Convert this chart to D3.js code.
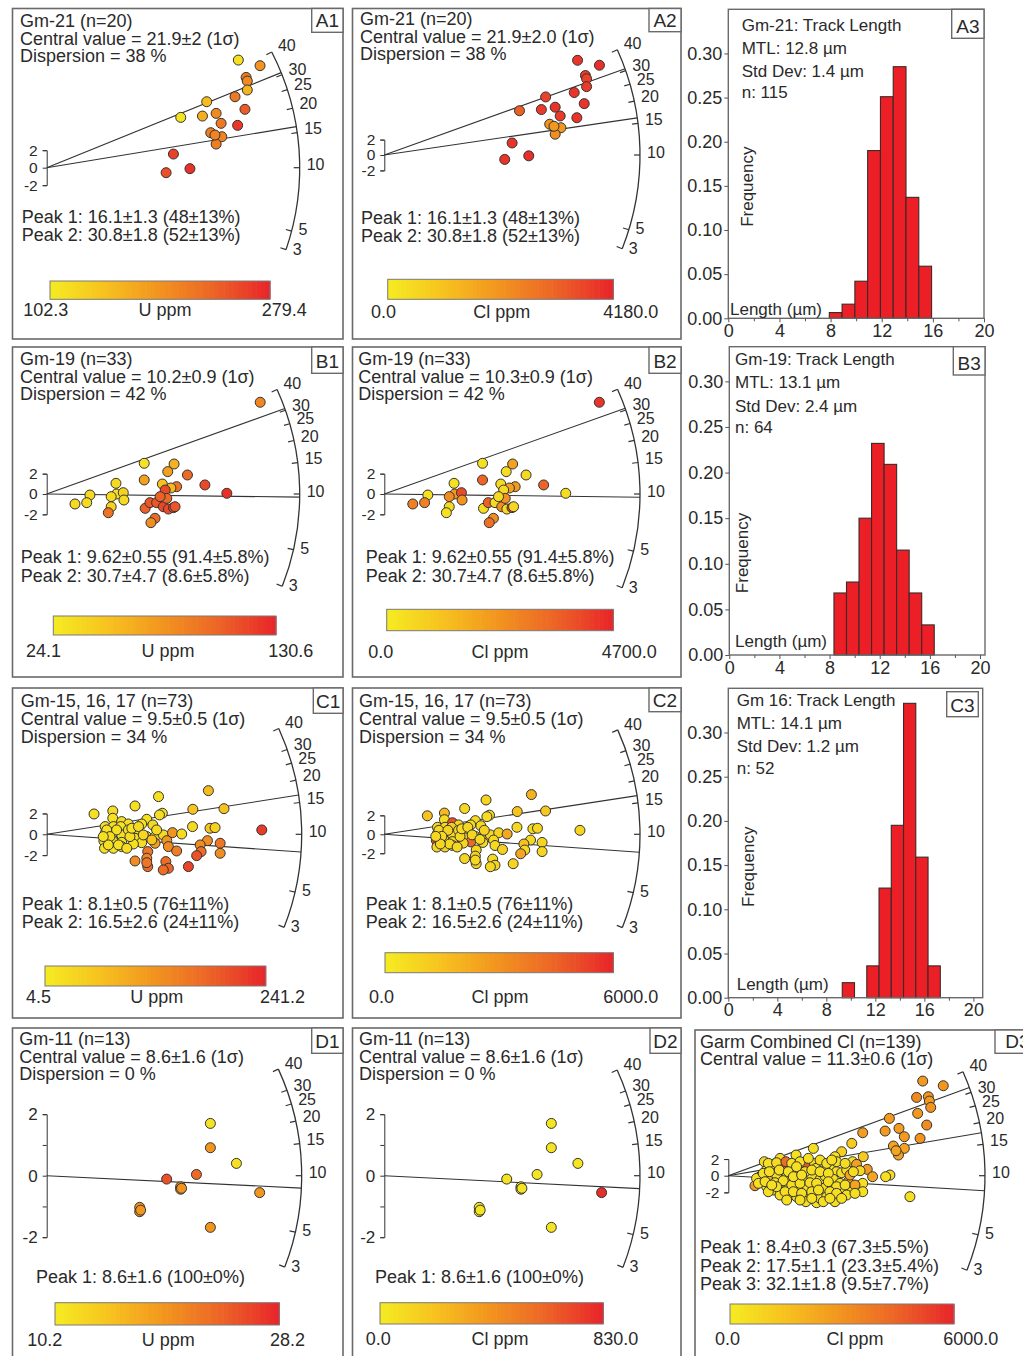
<!DOCTYPE html>
<html><head><meta charset="utf-8">
<script src="https://cdn.jsdelivr.net/npm/d3@7"></script>
<style>body{margin:0;background:#fff}</style>
</head><body><script>
// ---------------- DATA ----------------
// radial-plot grains: [precision x, standardised estimate z, U ppm, Cl ppm]
const gm21Grains = [
[8.12,12.30,115,3900],[9.04,11.66,190,4000],[8.45,10.32,215,3800],[8.50,9.90,200,3700],[8.50,8.88,160,3800],
[7.98,8.11,215,3900],[6.78,7.54,150,3700],[8.40,6.67,240,3900],[5.68,5.75,110,3200],[6.60,5.90,165,3800],
[7.18,6.21,200,3900],[7.39,5.07,215,3800],[8.09,4.84,265,3900],[6.95,4.00,210,2100],[7.42,3.54,205,2000],
[7.18,2.70,210,2200],[5.37,1.56,260,3900],[6.07,-0.11,270,4000],[5.06,-0.57,250,3900],[7.13,3.73,205,2000]];
const gm19Grains = [
[6.72,9.02,85,4400],[3.07,3.02,30,300],[4.01,2.95,60,2000],[3.81,2.20,70,400],[4.43,1.87,100,500],
[3.07,1.38,70,3500],[2.18,1.05,35,300],[3.64,0.98,50,500],[4.09,0.72,95,2200],[3.91,0.59,55,2000],
[4.98,0.89,115,3500],[5.67,0.07,125,400],[3.73,0.39,115,500],[1.36,-0.10,35,300],[2.20,0.00,30,2200],
[2.41,0.13,40,4000],[2.03,-0.26,35,2500],[0.89,-0.98,35,2800],[1.26,-0.85,35,2800],[2.43,-0.59,35,2300],
[2.03,-1.25,40,500],[1.94,-1.84,95,300],[3.10,-1.41,105,400],[3.25,-0.85,110,3600],[3.46,-0.85,110,500],
[3.67,-1.25,115,2500],[3.83,-1.48,115,400],[3.99,-1.34,115,4200],[3.41,-2.39,100,2500],[3.28,-2.82,80,3200],
[3.78,-0.43,100,2400],[3.57,-0.26,105,500],[4.04,-1.25,110,600]];
const gm15to17Grains = [
[5.09,4.19,70,2000],[3.52,3.62,20,800],[2.78,2.72,20,700],[1.49,1.95,20,1500],[2.08,2.24,25,1800],[3.64,2.02,20,700],[3.55,1.86,25,600],[4.60,2.40,60,1400],[5.58,2.46,60,1300],[2.08,1.54,20,600],
[2.36,1.22,25,5000],[2.57,0.99,25,800],[3.15,1.44,20,700],[3.34,0.90,30,700],[2.99,0.99,20,600],[1.84,0.74,20,700],[2.10,0.74,20,600],[2.33,0.74,20,1200],[4.59,0.74,30,700],[5.14,0.58,60,700],
[5.30,0.64,40,800],[2.78,0.26,20,700],[1.84,0.10,20,600],[2.10,0.16,20,700],[2.36,-0.06,20,700],[3.15,-0.22,55,600],[3.41,-0.22,35,800],[3.67,-0.06,30,700],[3.96,0.16,120,900],[4.25,0.03,30,2300],
[2.78,-0.38,20,800],[1.80,-0.64,20,5200],[2.10,-0.70,20,600],[2.36,-0.77,20,800],[2.99,-0.80,25,4300],[2.73,-0.93,20,700],[3.41,-0.86,110,700],[3.78,-0.61,120,700],[5.06,-0.61,130,700],[5.46,-0.86,160,800],
[6.77,0.42,220,800],[1.82,-1.34,20,700],[2.10,-1.34,20,800],[2.36,-1.18,25,600],[3.18,-1.66,160,800],[3.83,-1.18,130,700],[4.09,-1.60,150,900],[4.83,-1.02,130,1500],[4.86,-1.66,170,700],[4.72,-2.05,200,2400],
[5.46,-1.82,130,800],[2.78,-2.56,130,800],[3.15,-2.30,140,800],[3.18,-3.10,170,900],[3.75,-2.62,170,700],[3.83,-3.26,180,800],[3.67,-3.42,170,700],[4.46,-3.10,210,800],[3.15,-2.72,160,700],[1.89,0.42,20,700],
[2.20,0.42,20,900],[1.99,-0.22,25,600],[2.26,-1.02,20,700],[2.57,0.42,25,800],[2.62,-0.22,25,700],[2.68,0.58,20,600],[2.89,0.74,30,700],[3.04,-0.06,35,800],[3.31,-0.54,60,700],[3.46,0.42,30,900],
[2.52,-1.34,25,700],[1.94,-1.02,20,800],[1.78,-0.22,20,700]];
const gm11Grains = [
[1.76,1.70,11,30],[1.76,0.91,19,40],[2.04,0.40,11.5,30],[1.61,0.04,23,40],[1.29,-0.11,25,50],
[1.44,-0.36,19,40],[1.44,-0.44,19,30],[2.29,-0.55,19,800],[1.00,-1.03,19,40],[1.00,-1.17,18,30],
[1.76,-1.68,19,40],[1.01,-1.12,19,30],[1.45,-0.41,19,40]];
// combined plot: [precision x, z, Cl ppm]
const garmCombinedGrains = [
[7.29,11.36,2800],[8.06,10.80,2900],[7.06,9.40,3300],[7.50,9.48,2900],[7.54,8.96,2800],[7.59,8.20,3000],[7.10,7.48,2800],[6.04,6.88,2800],[7.44,6.08,3200],[5.04,5.16,2700],
[5.88,5.36,2800],[6.40,5.68,2700],[6.60,4.68,2800],[7.19,4.48,3000],[6.19,3.56,2500],[6.60,3.28,2500],[6.38,2.48,2500],[6.29,3.00,2400],[4.63,3.88,1200],[4.25,2.88,1000],
[3.19,3.28,500],[5.06,2.28,1200],[4.00,2.28,400],[4.66,1.68,500],[4.81,1.36,2600],[5.21,0.76,2700],[5.41,-0.12,2400],[4.50,-0.72,2500],[5.04,-0.92,500],[5.04,-1.92,400],
[6.06,0.08,600],[5.90,-0.12,500],[6.81,-2.52,400],[2.54,2.48,400],[1.94,2.08,600],[1.35,1.68,700],[1.63,1.16,500],[2.06,1.08,4500],[2.94,1.20,4800],[3.23,1.48,400],
[3.29,0.88,500],[3.69,0.88,500],[3.88,1.08,500],[4.06,0.48,500],[4.25,0.36,600],[4.44,0.68,400],[2.69,0.68,500],[2.44,0.48,500],[1.69,0.28,500],[1.41,0.60,400],
[1.19,-0.12,600],[1.00,-1.20,2800],[1.44,-1.32,500],[1.94,-1.32,400],[2.19,-0.92,500],[2.50,-0.52,2300],[2.81,-0.52,500],[3.13,-0.12,600],[3.44,-0.44,500],[3.63,-0.04,400],
[3.94,-0.44,500],[4.19,-0.92,500],[3.88,-1.32,400],[3.56,-1.52,500],[3.19,-1.32,600],[2.88,-1.52,500],[2.56,-1.72,400],[2.31,-2.32,500],[2.56,-2.52,500],[2.91,-2.52,400],
[2.91,-3.12,500],[3.31,-3.24,500],[3.44,-2.72,500],[3.69,-2.52,600],[4.00,-3.12,500],[4.31,-2.04,500],[4.56,-1.72,600],[1.69,-1.72,600],[1.94,-2.32,500],[1.25,-0.52,600],
[1.56,-0.52,2200],[1.06,-0.32,500],[2.19,-0.12,500],[1.81,0.08,500],[1.50,1.48,500],[1.81,1.56,600],[2.16,1.68,4200],[2.38,1.48,500],[2.69,1.68,500],[3.00,2.08,500],
[3.44,1.88,600],[3.69,1.48,500],[4.06,1.68,500],[4.38,1.48,600],[1.31,0.28,500],[1.54,0.48,500],[1.91,0.68,500],[2.25,0.48,500],[2.56,1.08,500],[2.88,0.48,500],
[3.13,0.68,500],[3.44,0.48,500],[3.75,0.28,500],[4.56,0.08,2400],[1.13,-0.92,500],[1.38,-0.72,500],[1.75,-0.84,500],[2.06,-0.60,500],[2.38,-1.12,500],[2.69,-0.92,500],
[3.06,-0.84,500],[3.31,-0.92,500],[3.75,-0.72,500],[4.06,-1.32,500],[4.38,-1.12,500],[4.75,-1.12,2500],[1.50,-1.92,500],[1.81,-1.32,500],[2.13,-1.92,500],[2.44,-1.92,500],
[2.75,-2.12,500],[3.13,-1.92,500],[3.38,-1.72,500],[3.81,-1.92,500],[4.06,-2.12,500],[4.44,-2.32,500],[4.75,-2.12,500],[2.19,-2.92,500],[2.69,-2.92,500],[3.13,-2.72,500],
[3.56,-3.12,500],[3.81,-2.72,500],[4.25,-2.72,500],[4.94,0.60,700],[3.88,1.88,500],[2.44,-0.12,500],[2.75,0.08,500],[1.63,-1.12,500],[4.69,0.48,600]];

// peaks (Ma) and texts
const gm21Peaks = [16.1, 30.8];
const gm19Peaks = [9.62, 30.7];
const gm15Peaks = [8.1, 16.5];
const gm11Peaks = [8.6];
const garmPeaks = [8.4, 17.5, 32.1];
const gm21HeadU = ["Gm-21 (n=20)","Central value = 21.9±2 (1σ)","Dispersion = 38 %"];
const gm21HeadCl = ["Gm-21 (n=20)","Central value = 21.9±2.0 (1σ)","Dispersion = 38 %"];
const gm21PeakText = ["Peak 1: 16.1±1.3 (48±13%)","Peak 2: 30.8±1.8 (52±13%)"];
const gm19HeadU = ["Gm-19 (n=33)","Central value = 10.2±0.9 (1σ)","Dispersion = 42 %"];
const gm19HeadCl = ["Gm-19 (n=33)","Central value = 10.3±0.9 (1σ)","Dispersion = 42 %"];
const gm19PeakText = ["Peak 1: 9.62±0.55 (91.4±5.8%)","Peak 2: 30.7±4.7 (8.6±5.8%)"];
const gm15Head = ["Gm-15, 16, 17 (n=73)","Central value = 9.5±0.5 (1σ)","Dispersion = 34 %"];
const gm15PeakText = ["Peak 1: 8.1±0.5 (76±11%)","Peak 2: 16.5±2.6 (24±11%)"];
const gm11Head = ["Gm-11 (n=13)","Central value = 8.6±1.6 (1σ)","Dispersion = 0 %"];
const gm11PeakText = ["Peak 1: 8.6±1.6 (100±0%)"];
const garmHead = ["Garm Combined Cl (n=139)","Central value = 11.3±0.6 (1σ)"];
const garmPeakText = ["Peak 1: 8.4±0.3 (67.3±5.5%)","Peak 2: 17.5±1.1 (23.3±5.4%)","Peak 3: 32.1±1.8 (9.5±7.7%)"];

// colour-bar ranges
const uRangeGm21 = [102.3, 279.4], clRangeGm21 = [0, 4180];
const uRangeGm19 = [24.1, 130.6],  clRangeGm19 = [0, 4700];
const uRangeGm15 = [4.5, 241.2],   clRangeGm15 = [0, 6000];
const uRangeGm11 = [10.2, 28.2],   clRangeGm11 = [0, 830];
const clRangeGarm = [0, 6000];

// radial arc ticks (Ma)
const arcTickAges = [3,5,10,15,20,25,30,40];
const arcAngleAges = [3,5,10,40];

// track-length histograms (frequency per 1 µm bin)
const gm21LenStart = 7.9,  gm21LenFreq = [0.0065,0.016,0.042,0.190,0.251,0.285,0.137,0.059];
const gm19LenStart = 8.35, gm19LenFreq = [0.068,0.080,0.150,0.232,0.209,0.115,0.068,0.033];
const gm16LenStart = 9.3,  gm16LenFreq = [0.017,0,0.036,0.124,0.195,0.333,0.159,0.036];
const gm21LenHead = ["Gm-21: Track Length","MTL: 12.8 µm","Std Dev: 1.4 µm","n: 115"];
const gm19LenHead = ["Gm-19: Track Length","MTL: 13.1 µm","Std Dev: 2.4 µm","n: 64"];
const gm16LenHead = ["Gm 16: Track Length","MTL: 14.1 µm","Std Dev: 1.2 µm","n: 52"];
const freqTicks = [0,0.05,0.10,0.15,0.20,0.25,0.30];
const lengthTicks = [0,4,8,12,16,20];
const lengthMinor = [2,6,10,14,18];

// ---------------- DRAWING ----------------
const FONT = "'Liberation Sans', Arial, Helvetica, sans-serif";
const INK = "#2a2a2a";
const svg = d3.select("body").append("svg").attr("width",1023).attr("height",1356)
  .style("display","block").attr("font-family",FONT);
svg.append("rect").attr("width",1023).attr("height",1356).attr("fill","#fff");
const ramp = d3.piecewise(d3.interpolateRgb, ["#f5ec22","#f7c11f","#f2931f","#ec6327","#e8242a"]);

function txt(g,x,y,s,size,anchor){
  return g.append("text").attr("x",x).attr("y",y).attr("font-size",size)
    .attr("text-anchor",anchor||"start").attr("fill",INK).text(s);
}
function labelBox(g,b,s){
  g.append("rect").attr("x",b[0]).attr("y",b[1]).attr("width",b[2]-b[0]).attr("height",b[3]-b[1])
    .attr("fill","#fff").attr("stroke","#6a6a6a").attr("stroke-width",1.4);
  txt(g,(b[0]+b[2])/2,b[3]-5,s,19,"middle");
}

const radialLayout = [
 {lab:"A1",box:[12.5,8.5,343,339],lbox:[311.7,8.5,343,32.3],ox:46.7,oy:167.7,px:23.6,py:8.75,R:253,ang:[-18.9,-14.5,0,27.2],
  grains:gm21Grains,ci:2,cdom:uRangeGm21,cname:"U ppm",head:gm21HeadU,hx:20,hy:[27.3,45,61.7],peaks:gm21Peaks,ptxt:gm21PeakText,pkx:21.7,pky:[222.7,240.7],
  cbar:[50,281,220,18.3],cby:316,cbl:23.3,cbr:306.7,cbm:165},
 {lab:"A2",box:[352.5,8.5,681,339],lbox:[649,8.5,681,31.7],ox:384.3,oy:155,px:23.8,py:7.7,R:255.7,ang:[-21.5,-17,0,24.3],
  grains:gm21Grains,ci:3,cdom:clRangeGm21,cname:"Cl ppm",head:gm21HeadCl,hx:360,hy:[25,43.3,60],peaks:gm21Peaks,ptxt:gm21PeakText,pkx:361,pky:[224,242],
  cbar:[387.7,279.3,225.6,20],cby:318.3,cbl:371,cbr:658.3,cbm:501.7},
 {lab:"B1",box:[12.5,347,343,677],lbox:[311.7,347,343,373.3],ox:46.7,oy:494,px:31.77,py:10.17,R:253,ang:[-21.4,-12.7,0,24.4],
  grains:gm19Grains,ci:2,cdom:uRangeGm19,cname:"U ppm",head:gm19HeadU,hx:20,hy:[365,382.7,400],peaks:gm19Peaks,ptxt:gm19PeakText,pkx:20.7,pky:[563.3,581.7],
  cbar:[53.3,616,222.7,19],cby:656.7,cbl:26,cbr:313.3,cbm:168},
 {lab:"B2",box:[352.5,347,681,677],lbox:[649,347,681,373.3],ox:384.3,oy:494,px:32.0,py:10.17,R:255.7,ang:[-21.5,-12.9,0,24.2],
  grains:gm19Grains,ci:3,cdom:clRangeGm19,cname:"Cl ppm",head:gm19HeadCl,hx:358.3,hy:[365,382.7,400],peaks:gm19Peaks,ptxt:gm19PeakText,pkx:365.7,pky:[563.3,581.7],
  cbar:[386.7,609.3,226.6,21.4],cby:658.3,cbl:368.3,cbr:656.7,cbm:500},
 {lab:"C1",box:[12.5,688,343,1018],lbox:[313.3,688,343,713.3],ox:46.7,oy:834.3,px:31.77,py:10.42,R:255,ang:[-21.4,-13.1,0,24.5],
  grains:gm15to17Grains,ci:2,cdom:uRangeGm15,cname:"U ppm",head:gm15Head,hx:20.7,hy:[707,725,743],peaks:gm15Peaks,ptxt:gm15PeakText,pkx:21.7,pky:[910,928.3],
  cbar:[45,966,220.7,20],cby:1002.7,cbl:26,cbr:305,cbm:156.7},
 {lab:"C2",box:[352.5,688,681,1018],lbox:[649,688,681,711.7],ox:384.3,oy:834.3,px:28.9,py:9.48,R:255.7,ang:[-21.4,-13.2,0,24.1],
  grains:gm15to17Grains,ci:3,cdom:clRangeGm15,cname:"Cl ppm",head:gm15Head,hx:359,hy:[707,725,743],peaks:gm15Peaks,ptxt:gm15PeakText,pkx:365.7,pky:[910,928.3],
  cbar:[385,952.7,228.3,20],cby:1002.7,cbl:369,cbr:658.3,cbm:500},
 {lab:"D1",box:[12.5,1028,343,1370],lbox:[311.7,1028,343,1053.3],ox:46.7,oy:1175.7,px:93,py:30.75,R:255,ang:[-21,-12.8,0,24.7],
  grains:gm11Grains,ci:2,cdom:uRangeGm11,cname:"U ppm",head:gm11Head,hx:19.3,hy:[1045,1062.7,1080],peaks:gm11Peaks,ptxt:gm11PeakText,pkx:36,pky:[1283.3],
  cbar:[55,1302.7,224.3,22.3],cby:1346,cbl:27.3,cbr:305,cbm:168.3},
 {lab:"D2",box:[352.5,1028,681,1370],lbox:[650,1028,681,1053.3],ox:384.3,oy:1175.7,px:94.9,py:30.75,R:255.7,ang:[-21,-13.3,0,24.4],
  grains:gm11Grains,ci:3,cdom:clRangeGm11,cname:"Cl ppm",head:gm11Head,hx:359,hy:[1045,1062.7,1080],peaks:gm11Peaks,ptxt:gm11PeakText,pkx:375,pky:[1283.3],
  cbar:[380,1302.7,223.3,21.3],cby:1345,cbl:365.7,cbr:638.3,cbm:500},
 {lab:"D3",box:[695,1030,1040,1370],lbox:[995,1030,1040,1053.3],ox:728.3,oy:1175.7,px:26.67,py:8.33,R:256.7,ang:[-21.6,-13.3,0,23.9],
  grains:garmCombinedGrains,ci:2,cdom:clRangeGarm,cname:"Cl ppm",head:garmHead,hx:700,hy:[1048.3,1065],peaks:garmPeaks,ptxt:garmPeakText,pkx:700,pky:[1253.3,1271.7,1290],
  cbar:[730,1304,224,20],cby:1345,cbl:715,cbr:998.3,cbm:855}
];

function drawRadial(c){
  const g = svg.append("g");
  g.append("rect").attr("x",c.box[0]).attr("y",c.box[1]).attr("width",c.box[2]-c.box[0]).attr("height",c.box[3]-c.box[1])
    .attr("fill","none").attr("stroke","#6a6a6a").attr("stroke-width",1.6);
  const x = d3.scaleLinear().domain([0,1]).range([c.ox,c.ox+c.px]);
  const y = d3.scaleLinear().domain([0,1]).range([c.oy,c.oy-c.py]);
  const ang = d3.scaleLog().domain(arcAngleAges).range(c.ang);
  const rad = t => ang(t)*Math.PI/180;
  const P = (t,r) => [c.ox + r*Math.cos(rad(t)), c.oy - r*Math.sin(rad(t))];
  // arc
  const p = d3.path(); p.arc(c.ox,c.oy,c.R,-rad(40),-rad(3),false);
  g.append("path").attr("d",p.toString()).attr("fill","none").attr("stroke","#333").attr("stroke-width",1.3);
  arcTickAges.forEach(t=>{
    const a=P(t,c.R), b=P(t,c.R-6), l=P(t,c.R+7);
    g.append("line").attr("x1",a[0]).attr("y1",a[1]).attr("x2",b[0]).attr("y2",b[1]).attr("stroke","#333").attr("stroke-width",1.2);
    txt(g,l[0],l[1]-3,t,16).attr("dy","0.35em");
  });
  // peak lines
  c.peaks.forEach(pk=>{
    const e=P(pk,c.R);
    g.append("line").attr("x1",c.ox).attr("y1",c.oy).attr("x2",e[0]).attr("y2",e[1]).attr("stroke","#333").attr("stroke-width",1.1);
  });
  // z bracket axis
  const ya = y.copy().domain([-2,2]).range([y(-2),y(2)]);
  const ax = g.append("g").attr("transform",`translate(${c.ox},0)`)
    .call(d3.axisLeft(ya).tickValues(c.py>20?[-2,-1,0,1,2]:[-2,0,2]).tickFormat(d=>d%2===0?d:"")
      .tickSize(4).tickSizeOuter(4).tickPadding(5));
  ax.attr("font-size",c.py>20?17:15.5).attr("font-family",FONT).attr("color","#333");
  ax.selectAll("text").attr("fill",INK);
  // points
  const col = d3.scaleSequential(ramp).domain(c.cdom);
  g.append("g").selectAll("circle").data(c.grains).join("circle")
    .attr("cx",d=>x(d[0])).attr("cy",d=>y(d[1])).attr("r",5)
    .attr("fill",d=>col(d[c.ci])).attr("stroke","#333").attr("stroke-width",1);
  // texts
  c.head.forEach((s,i)=>txt(g,c.hx,c.hy[i],s,18));
  c.ptxt.forEach((s,i)=>txt(g,c.pkx,c.pky[i],s,18));
  // colour bar
  const [bx,by,bw,bh] = c.cbar;
  const cx = d3.scaleLinear().domain(c.cdom).range([bx,bx+bw]);
  const n = 48, step = (c.cdom[1]-c.cdom[0])/n;
  g.append("g").selectAll("rect").data(d3.range(n).map(i=>c.cdom[0]+i*step)).join("rect")
    .attr("x",d=>cx(d)).attr("y",by).attr("width",d=>cx(d+step)-cx(d)+0.6).attr("height",bh)
    .attr("fill",d=>col(d+step/2));
  g.append("rect").attr("x",bx).attr("y",by).attr("width",bw).attr("height",bh).attr("fill","none").attr("stroke","#7a7a7a").attr("stroke-width",1);
  const f = d3.format(".1f");
  txt(g,c.cbl,c.cby,f(c.cdom[0]),18,"start");
  txt(g,c.cbm,c.cby,c.cname,18,"middle");
  txt(g,c.cbr,c.cby,f(c.cdom[1]),18,"end");
  labelBox(g,c.lbox,c.lab);
}
radialLayout.forEach(drawRadial);

const histLayout = [
 {lab:"A3",frame:[728.3,9.3,984,318.3],xdom:[0,20],ydom:[0,0.35],start:gm21LenStart,freq:gm21LenFreq,head:gm21LenHead,
  hx:741.7,hy:[31,54,76.7,98.3],fq:[746.7,186.7],len:[730,315],lbox:[951.7,9.3,984,38.3]},
 {lab:"B3",frame:[729.3,346.7,985,655],xdom:[0,20.4],ydom:[0,0.338],start:gm19LenStart,freq:gm19LenFreq,head:gm19LenHead,
  hx:735,hy:[365,388.3,411.7,433.3],fq:[741.7,553],len:[735,646.7],lbox:[953.3,346.7,985,375]},
 {lab:"C3",frame:[728.3,688.3,982.7,997.7],xdom:[0,20.76],ydom:[0,0.35],start:gm16LenStart,freq:gm16LenFreq,head:gm16LenHead,
  hx:736.7,hy:[706,729.3,751.7,774],fq:[748.3,866.7],len:[736.7,990],lbox:[946.7,691.7,978.3,716.7]}
];
function drawHist(h){
  const g = svg.append("g");
  const [x0,y0,x1,y1] = h.frame;
  const x = d3.scaleLinear().domain(h.xdom).range([x0,x1]);
  const y = d3.scaleLinear().domain(h.ydom).range([y1,y0]);
  const bins = h.freq.map((f,i)=>({a:h.start+i,b:h.start+i+1,f})).filter(d=>d.f>0);
  g.append("g").selectAll("rect").data(bins).join("rect")
    .attr("x",d=>x(d.a)).attr("y",d=>y(d.f)).attr("width",d=>x(d.b)-x(d.a)).attr("height",d=>y(0)-y(d.f))
    .attr("fill","#ec1f27").attr("stroke","#3a2a2a").attr("stroke-width",1.1);
  g.append("rect").attr("x",x0).attr("y",y0).attr("width",x1-x0).attr("height",y1-y0)
    .attr("fill","none").attr("stroke","#6a6a6a").attr("stroke-width",1.4);
  const ya = g.append("g").attr("transform",`translate(${x0},0)`)
    .call(d3.axisLeft(y).tickValues(freqTicks).tickFormat(d3.format(".2f")).tickSize(4).tickPadding(2));
  const xa = g.append("g").attr("transform",`translate(0,${y1})`)
    .call(d3.axisBottom(x).tickValues(lengthTicks).tickFormat(d3.format("d")).tickSize(4).tickPadding(2));
  const xm = g.append("g").attr("transform",`translate(0,${y1})`)
    .call(d3.axisBottom(x).tickValues(lengthMinor).tickFormat("").tickSize(3));
  [ya,xa,xm].forEach(a=>{a.select(".domain").remove(); a.attr("font-size",18).attr("font-family",FONT).attr("color","#555"); a.selectAll("text").attr("fill",INK);});
  h.head.forEach((s,i)=>txt(g,h.hx,h.hy[i],s,17));
  txt(g,h.fq[0],h.fq[1],"Frequency",17,"middle").attr("transform",`rotate(-90 ${h.fq[0]} ${h.fq[1]})`).attr("dy","0.35em");
  txt(g,h.len[0],h.len[1],"Length (µm)",17);
  labelBox(g,h.lbox,h.lab);
}
histLayout.forEach(drawHist);
</script></body></html>
